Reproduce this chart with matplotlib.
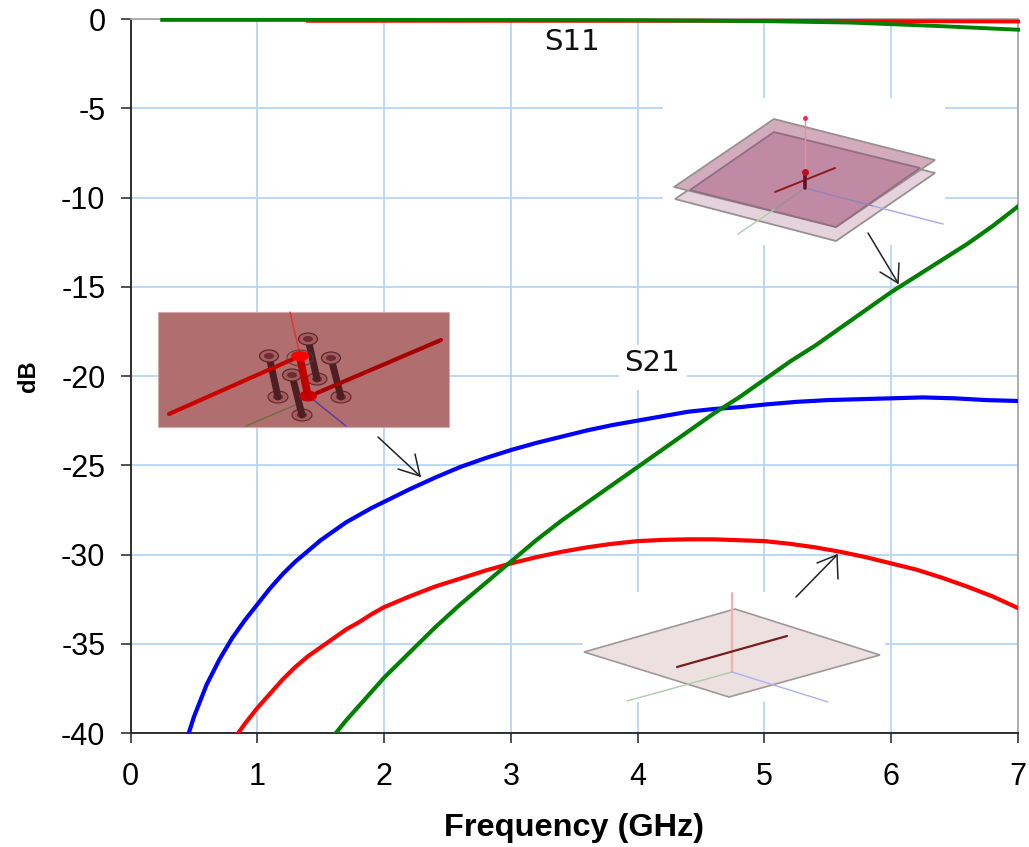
import matplotlib
matplotlib.use('Agg')
import matplotlib.pyplot as plt
from matplotlib.patches import Polygon, Rectangle, Ellipse

plt.rcParams['font.family'] = ['Liberation Sans', 'DejaVu Sans']
plt.rcParams['axes.unicode_minus'] = False

W, H = 1029, 847

# curves
blue_x = [0.46, 0.5, 0.6, 0.7, 0.8, 0.9, 1.0, 1.1, 1.2, 1.3, 1.4, 1.5, 1.6, 1.7, 1.8, 1.9, 2.0, 2.2, 2.4, 2.6,
          2.8, 3.0, 3.2, 3.4, 3.6, 3.8, 4.0, 4.2, 4.4, 4.6, 4.8, 5.0, 5.25, 5.5, 5.75, 6.0, 6.25, 6.5, 6.75, 7.0]
blue_y = [-40, -39.1, -37.3, -35.9, -34.7, -33.7, -32.8, -31.9, -31.1, -30.4, -29.8, -29.2, -28.7, -28.2, -27.8,
          -27.4, -27.05, -26.35, -25.7, -25.1, -24.6, -24.15, -23.75, -23.4, -23.05, -22.75, -22.5, -22.25, -22.0,
          -21.85, -21.75, -21.6, -21.45, -21.35, -21.3, -21.25, -21.2, -21.25, -21.35, -21.4]
red_x = [0.85, 0.9, 1.0, 1.1, 1.2, 1.3, 1.4, 1.5, 1.6, 1.7, 1.8, 1.9, 2.0, 2.2, 2.4, 2.6, 2.8, 3.0, 3.2, 3.4,
         3.6, 3.8, 4.0, 4.2, 4.4, 4.6, 4.8, 5.0, 5.2, 5.4, 5.6, 5.8, 6.0, 6.2, 6.4, 6.6, 6.8, 7.0]
red_y = [-40, -39.5, -38.6, -37.8, -37.0, -36.3, -35.7, -35.2, -34.7, -34.2, -33.8, -33.35, -32.95, -32.35, -31.8,
         -31.35, -30.9, -30.5, -30.15, -29.85, -29.6, -29.4, -29.25, -29.18, -29.15, -29.15, -29.2, -29.25, -29.4,
         -29.6, -29.85, -30.15, -30.5, -30.85, -31.3, -31.8, -32.35, -33.0]
green_x = [1.62, 1.7, 1.8, 1.9, 2.0, 2.2, 2.4, 2.6, 2.8, 3.0, 3.2, 3.4, 3.6, 3.8, 4.0, 4.2, 4.4, 4.6, 4.8, 5.0,
           5.2, 5.4, 5.6, 5.8, 6.0, 6.2, 6.4, 6.6, 6.8, 7.0]
green_y = [-40, -39.3, -38.5, -37.7, -36.9, -35.5, -34.1, -32.8, -31.6, -30.4, -29.2, -28.1, -27.1, -26.1, -25.1,
           -24.1, -23.1, -22.1, -21.2, -20.2, -19.2, -18.3, -17.3, -16.3, -15.3, -14.4, -13.5, -12.6, -11.6, -10.5]
s11_red_x = [1.4, 3.0, 5.0, 6.0, 7.0]
s11_red_y = [-0.1, -0.1, -0.1, -0.12, -0.14]
s11_green_x = [0.25, 2.0, 4.0, 5.0, 5.68, 6.39, 7.0]
s11_green_y = [-0.05, -0.05, -0.07, -0.12, -0.2, -0.4, -0.6]

x_ticks = [0, 1, 2, 3, 4, 5, 6, 7]
y_ticks = [0, -5, -10, -15, -20, -25, -30, -35, -40]

fig = plt.figure(figsize=(W / 100, H / 100), dpi=100, facecolor='white')
ax = fig.add_axes([130.5 / W, 1 - 733 / H, (1018 - 130.5) / W, (733 - 19) / H])
ax.set_xlim(0, 7)
ax.set_ylim(-40, 0)
ax.set_xticks(x_ticks)
ax.set_yticks(y_ticks)
ax.grid(True, color='#b5d6f7', lw=1.3)
ax.set_axisbelow(True)
ax.tick_params(axis='x', labelsize=22, length=7, width=1.2, color='#333333', pad=14)
ax.tick_params(axis='y', labelsize=22, length=7, width=1.2, color='#333333', pad=11)
for s in ['top', 'right']:
    ax.spines[s].set_color('#aaaaaa')
    ax.spines[s].set_linewidth(1.3)
for s in ['left', 'bottom']:
    ax.spines[s].set_color('#222222')
    ax.spines[s].set_linewidth(1.3)
ax.set_xlabel('Frequency (GHz)', fontsize=23.4, fontweight='bold', labelpad=15)
ax.set_ylabel('dB', fontsize=17, fontweight='bold', labelpad=15)

ax.plot(blue_x, blue_y, color='#0000ff', lw=3.0, zorder=3)
ax.plot(red_x, red_y, color='#ff0000', lw=3.0, zorder=3)
ax.plot(green_x, green_y, color='#008000', lw=3.0, zorder=4)
ax.plot(s11_red_x, s11_red_y, color='#ff0000', lw=2.8, zorder=3, clip_on=False)
ax.plot(s11_green_x, s11_green_y, color='#008000', lw=2.8, zorder=4, clip_on=False)

# overlay in pixel coordinates, for the pasted pictures and the arrows
ov = fig.add_axes([0, 0, 1, 1], facecolor='none')
ov.set_xlim(0, W)
ov.set_ylim(H, 0)
ov.axis('off')


def seg(p, q, color, lw=1.0, z=6):
    ov.plot([p[0], q[0]], [p[1], q[1]], color=color, lw=lw, zorder=z, solid_capstyle='round')


def arrow(tail, tip, b1, b2):
    seg(tail, tip, '#222222', 1.1)
    seg(b1, tip, '#222222', 1.1)
    seg(b2, tip, '#222222', 1.1)


def blank(x0, y0, x1, y1):
    ov.add_patch(Rectangle((x0, y0), x1 - x0, y1 - y0, fc='white', ec='none', zorder=2))


# white areas behind the small pictures
blank(663, 98, 945, 245)
blank(583, 592, 885, 702)
blank(619, 345, 687, 390)

# patch with the vias, box
ov.add_patch(Rectangle((158, 312), 291, 115, fc='#b06e6e', ec='#d3aaaa', lw=0.8, zorder=5))
seg((290, 312), (300, 355), '#e83030', 1.0)
seg((246, 426), (300, 403), '#6f7040', 1.0)
seg((311, 398), (346, 426), '#5a3a9a', 1.0)
vias = [((269, 356), (278, 397)), ((308, 339), (317, 379)), ((331, 358), (341, 397)),
        ((292, 375), (302, 415))]
for top, bot in vias:
    ov.add_patch(Ellipse(bot, 20, 12, fc='#a85a5e', ec='#5a2a2a', lw=0.8, zorder=6))
    ov.add_patch(Ellipse(bot, 10, 6, fc='#6a2e32', ec='none', zorder=6))
    seg(top, bot, '#4d1f22', 5.0, 7)
    ov.add_patch(Ellipse(top, 19, 12, fc='#a85a5e', ec='#4d2525', lw=0.8, zorder=8))
    ov.add_patch(Ellipse(top, 10, 6, fc='#6a2e32', ec='none', zorder=8))
seg((169, 414), (300, 356), '#c80000', 3.0, 8)
seg((317, 393), (441, 340), '#a80000', 3.0, 8)
ov.add_patch(Ellipse((308, 396), 18, 11, fc='#d00000', ec='none', zorder=8))
ov.add_patch(Ellipse((300, 358), 26, 16, fc='none', ec='#5a3a3a', lw=0.7, zorder=8))
seg((300, 358), (308, 396), '#c00000', 5.5, 9)
ov.add_patch(Ellipse((300, 356), 18, 10, fc='#ff0000', ec='none', zorder=10))

# two stacked patches
ov.add_patch(Polygon([(675, 199), (774, 132), (935, 173), (836, 241)], closed=True,
                     fc='#e6d2dc', ec='#999090', lw=1.3, zorder=5))
ov.add_patch(Polygon([(674, 187), (774, 119), (935, 160), (836, 227)], closed=True,
                     fc='#d2abbc', ec='#999090', lw=1.3, zorder=5))
ov.add_patch(Polygon([(690, 190), (774, 132), (920, 168), (836, 227)], closed=True,
                     fc='#c08aa5', ec='#8f6f80', lw=1.3, zorder=5))
seg((738, 234), (775, 209), '#a8d0a8', 1.0, 6)
seg((775, 209), (805, 188), '#9a8f90', 1.0, 6)
seg((805, 188), (873, 206), '#8f85b8', 1.0, 6)
seg((873, 206), (943, 224), '#a8a8f0', 1.0, 6)
seg((805, 118), (805, 172), '#f08a9a', 1.0, 7)
ov.plot([805], [118], 'o', color='#e83040', ms=2.5, zorder=7)
seg((775, 192), (835, 168), '#8f1a1a', 1.4, 8)
seg((805, 172), (805, 188), '#6a1020', 2.6, 9)
ov.plot([805], [172], 'o', color='#b81020', ms=4, zorder=10)

# single patch
ov.add_patch(Polygon([(584, 652), (735, 609), (880, 655), (729, 697)], closed=True,
                     fc='#ece0e0', ec='#a09898', lw=1.2, zorder=5))
seg((732, 593), (732, 672), '#f5b0b0', 1.6, 6)
seg((627, 701), (732, 672), '#a8cfa8', 1.0, 6)
seg((732, 672), (828, 702), '#b0b0f0', 1.0, 6)
seg((677, 667), (787, 636), '#7a1c1c', 1.6, 7)

# arrows
arrow((378, 437), (420, 476), (398, 469), (415, 454))
arrow((868, 233), (898, 283), (880, 272), (899, 263))
arrow((796, 597), (837, 555), (817, 563), (838, 579))

ov.text(572, 42, 'S11', fontsize=21, family='DejaVu Sans', ha='center', va='center', zorder=7, color='#111111')
ov.text(652, 363, 'S21', fontsize=21, family='DejaVu Sans', ha='center', va='center', zorder=7, color='#111111')

fig.savefig('out.png', dpi=100)
